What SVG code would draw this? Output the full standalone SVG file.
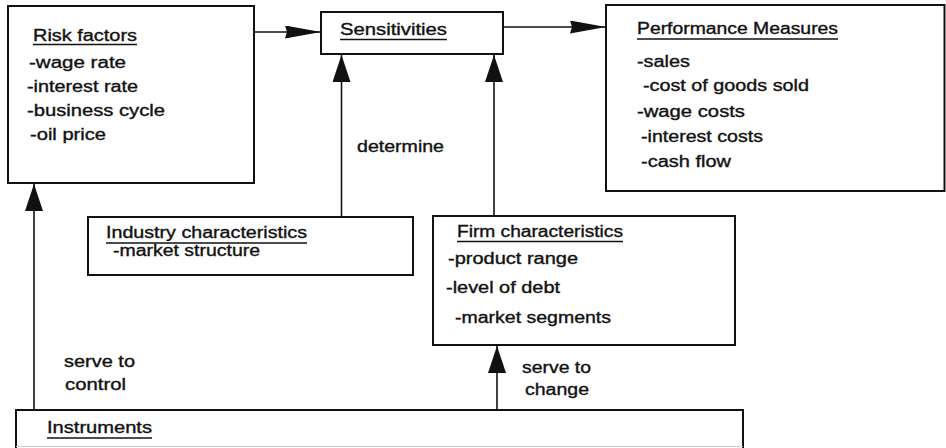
<svg xmlns="http://www.w3.org/2000/svg" width="946" height="448" viewBox="0 0 946 448">
<defs>
<style>
.box{fill:#fff;stroke:#111;stroke-width:2}
.t{font-family:"Liberation Sans",Arial,Helvetica,sans-serif;font-size:16px;fill:#111;stroke:#111;stroke-width:0.35}
.ul{stroke:#111;stroke-width:1.5}
.conn{fill:none;stroke:#111;stroke-width:1.6}
</style>
<marker id="headV" viewBox="0 0 27 18" markerUnits="userSpaceOnUse" markerWidth="27" markerHeight="18" refX="27" refY="9" orient="auto"><path d="M0,0 L27,9 L0,18 Z" fill="#111"/></marker>
<marker id="headH" viewBox="0 0 36 13" markerUnits="userSpaceOnUse" markerWidth="36" markerHeight="13" refX="36" refY="6.5" orient="auto"><path d="M0,0 L36,6.5 L0,13 L2,6.5 Z" fill="#111"/></marker>
</defs>
<rect width="946" height="448" fill="#fff"/>

<g id="connectors">
<path class="conn" d="M251,32 H321" marker-end="url(#headH)"/>
<path class="conn" d="M503,27 H606" marker-end="url(#headH)"/>
<path class="conn" d="M341.5,217 V55" marker-end="url(#headV)"/>
<path class="conn" d="M494,216 V55" marker-end="url(#headV)"/>
<path class="conn" d="M34,410 V184" marker-end="url(#headV)"/>
<path class="conn" d="M497,410 V346" marker-end="url(#headV)"/>
<text class="t" x="357" y="152" textLength="87" lengthAdjust="spacingAndGlyphs">determine</text>
<text class="t" x="64" y="367" textLength="71" lengthAdjust="spacingAndGlyphs">serve to</text>
<text class="t" x="65" y="390" textLength="61" lengthAdjust="spacingAndGlyphs">control</text>
<text class="t" x="522" y="373" textLength="69" lengthAdjust="spacingAndGlyphs">serve to</text>
<text class="t" x="525" y="395" textLength="64" lengthAdjust="spacingAndGlyphs">change</text>
</g>

<g id="risk-factors">
<rect class="box" x="8" y="6" width="246" height="177"/>
<text class="t" x="33" y="41" textLength="104" lengthAdjust="spacingAndGlyphs">Risk factors</text>
<line class="ul" x1="33" y1="44.5" x2="137" y2="44.5"/>
<text class="t" x="29" y="68" textLength="97" lengthAdjust="spacingAndGlyphs">-wage rate</text>
<text class="t" x="27" y="92" textLength="111" lengthAdjust="spacingAndGlyphs">-interest rate</text>
<text class="t" x="27" y="116" textLength="138" lengthAdjust="spacingAndGlyphs">-business cycle</text>
<text class="t" x="30" y="140" textLength="76" lengthAdjust="spacingAndGlyphs">-oil price</text>
</g>

<g id="sensitivities">
<rect class="box" x="321" y="12" width="182" height="42"/>
<text class="t" x="340" y="35" textLength="107" lengthAdjust="spacingAndGlyphs">Sensitivities</text>
<line class="ul" x1="340" y1="39.5" x2="447" y2="39.5"/>
</g>

<g id="performance-measures">
<rect class="box" x="606" y="5" width="338.5" height="186"/>
<text class="t" x="637" y="34" textLength="201" lengthAdjust="spacingAndGlyphs">Performance Measures</text>
<line class="ul" x1="637" y1="39" x2="838" y2="39"/>
<text class="t" x="637" y="67" textLength="53" lengthAdjust="spacingAndGlyphs">-sales</text>
<text class="t" x="643" y="91" textLength="166" lengthAdjust="spacingAndGlyphs">-cost of goods sold</text>
<text class="t" x="637" y="117" textLength="108" lengthAdjust="spacingAndGlyphs">-wage costs</text>
<text class="t" x="641" y="142" textLength="122" lengthAdjust="spacingAndGlyphs">-interest costs</text>
<text class="t" x="641" y="167" textLength="90" lengthAdjust="spacingAndGlyphs">-cash flow</text>
</g>

<g id="industry-characteristics">
<rect class="box" x="88" y="217" width="325" height="58"/>
<text class="t" x="106" y="238" textLength="201" lengthAdjust="spacingAndGlyphs">Industry characteristics</text>
<line class="ul" x1="106" y1="243" x2="307" y2="243"/>
<text class="t" x="113" y="256" textLength="147" lengthAdjust="spacingAndGlyphs">-market structure</text>
</g>

<g id="firm-characteristics">
<rect class="box" x="433" y="216" width="302" height="129"/>
<text class="t" x="457" y="237" textLength="166" lengthAdjust="spacingAndGlyphs">Firm characteristics</text>
<line class="ul" x1="457" y1="241.5" x2="623" y2="241.5"/>
<text class="t" x="448" y="264" textLength="130" lengthAdjust="spacingAndGlyphs">-product range</text>
<text class="t" x="446" y="293" textLength="114" lengthAdjust="spacingAndGlyphs">-level of debt</text>
<text class="t" x="455" y="323" textLength="156" lengthAdjust="spacingAndGlyphs">-market segments</text>
</g>

<g id="instruments">
<path d="M16,448 V410 H743 V448" fill="#fff" stroke="#111" stroke-width="2"/>
<line x1="16" y1="446.5" x2="743" y2="446.5" stroke="#ccc" stroke-width="1"/>
<text class="t" x="47" y="433" textLength="105" lengthAdjust="spacingAndGlyphs">Instruments</text>
<line class="ul" x1="47" y1="438" x2="152" y2="438"/>
</g>
</svg>
